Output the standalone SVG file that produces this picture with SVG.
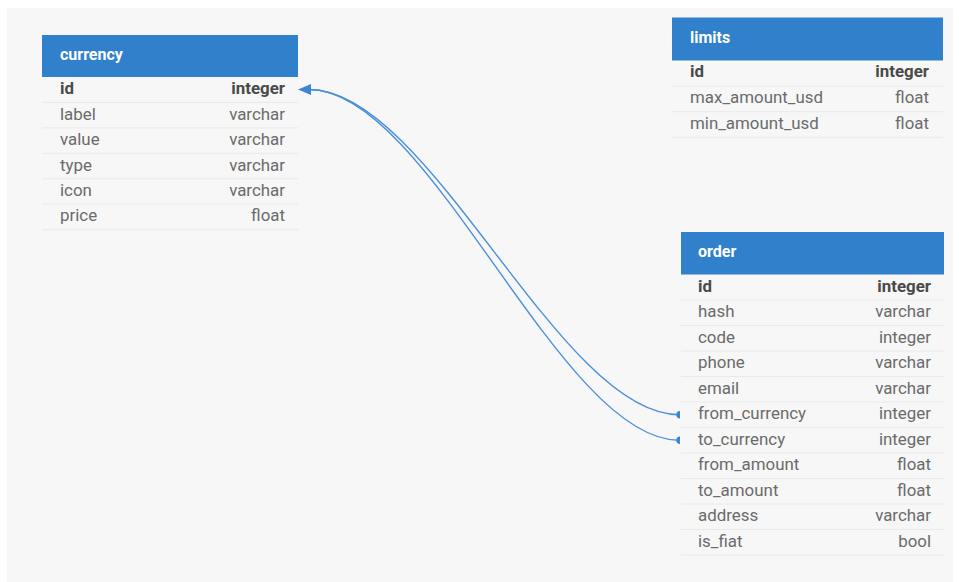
<svg xmlns="http://www.w3.org/2000/svg" width="959" height="582" viewBox="0 0 959 582">
  <defs>
    <style>
      .canvas { fill: #f7f7f7; }
      .head { fill: #3080cc; }
      .title { font-family: Roboto, "Liberation Sans", sans-serif; font-size: 16px; font-weight: bold; fill: #ffffff; }
      .f { font-family: Roboto, "Liberation Sans", sans-serif; font-size: 16.9px; fill: #6b6b6b; }
      .t { text-anchor: end; }
      .pk { font-weight: bold; fill: #4a4a4a; }
      .sep { stroke: #e9e9e9; stroke-width: 1; }
      .rel { fill: none; stroke: #4a90d9; stroke-width: 1.4; }
      .end { fill: #3f86d2; }
    </style>
  </defs>

  <rect class="canvas" x="7" y="8" width="946" height="574"/>

  <!-- relations: order.from_currency / order.to_currency -> currency.id -->
  <g id="connectors">
    <path class="rel" d="M679 414.7 C 559 414.7 430 89.5 309 89.5"/>
    <path class="rel" d="M679 440.2 C 559 440.2 430 89.5 309 89.5"/>
    <path class="end" d="M298 89.5 L311 84 L311 95 Z"/>
    <path class="end" d="M680 411 A 3.7 3.7 0 0 0 680 418.4 Z"/>
    <path class="end" d="M680 436.5 A 3.7 3.7 0 0 0 680 443.9 Z"/>
  </g>

  <!-- currency -->
  <g id="currency">
    <rect class="head" x="42" y="35" width="256" height="42"/>
    <text class="title" x="60" y="60">currency</text>
    <g class="sep">
      <line x1="42" y1="102.4" x2="298" y2="102.4"/>
      <line x1="42" y1="127.9" x2="298" y2="127.9"/>
      <line x1="42" y1="153.3" x2="298" y2="153.3"/>
      <line x1="42" y1="178.8" x2="298" y2="178.8"/>
      <line x1="42" y1="204.2" x2="298" y2="204.2"/>
      <line x1="42" y1="229.7" x2="298" y2="229.7"/>
    </g>
    <text class="f pk" x="60" y="94.2">id</text><text class="f pk t" x="285" y="94.2">integer</text>
    <text class="f" x="60" y="119.6">label</text><text class="f t" x="285" y="119.6">varchar</text>
    <text class="f" x="60" y="145.1">value</text><text class="f t" x="285" y="145.1">varchar</text>
    <text class="f" x="60" y="170.5">type</text><text class="f t" x="285" y="170.5">varchar</text>
    <text class="f" x="60" y="196">icon</text><text class="f t" x="285" y="196">varchar</text>
    <text class="f" x="60" y="221.4">price</text><text class="f t" x="285" y="221.4">float</text>
  </g>

  <!-- limits -->
  <g id="limits">
    <rect class="head" x="672" y="17.5" width="271" height="43"/>
    <text class="title" x="690" y="42.5">limits</text>
    <g class="sep">
      <line x1="672" y1="86.1" x2="943" y2="86.1"/>
      <line x1="672" y1="111.7" x2="943" y2="111.7"/>
      <line x1="672" y1="137.3" x2="943" y2="137.3"/>
    </g>
    <text class="f pk" x="690" y="77.3">id</text><text class="f pk t" x="929" y="77.3">integer</text>
    <text class="f" x="690" y="102.9">max_amount_usd</text><text class="f t" x="929" y="102.9">float</text>
    <text class="f" x="690" y="128.5">min_amount_usd</text><text class="f t" x="929" y="128.5">float</text>
  </g>

  <!-- order -->
  <g id="order">
    <rect class="head" x="681" y="232" width="263" height="42.5"/>
    <text class="title" x="698" y="257">order</text>
    <g class="sep">
      <line x1="681" y1="300" x2="944" y2="300"/>
      <line x1="681" y1="325.5" x2="944" y2="325.5"/>
      <line x1="681" y1="351" x2="944" y2="351"/>
      <line x1="681" y1="376.5" x2="944" y2="376.5"/>
      <line x1="681" y1="402" x2="944" y2="402"/>
      <line x1="681" y1="427.5" x2="944" y2="427.5"/>
      <line x1="681" y1="453" x2="944" y2="453"/>
      <line x1="681" y1="478.5" x2="944" y2="478.5"/>
      <line x1="681" y1="504" x2="944" y2="504"/>
      <line x1="681" y1="529.5" x2="944" y2="529.5"/>
      <line x1="681" y1="555" x2="944" y2="555"/>
    </g>
    <text class="f pk" x="698" y="291.6">id</text><text class="f pk t" x="931" y="291.6">integer</text>
    <text class="f" x="698" y="317.1">hash</text><text class="f t" x="931" y="317.1">varchar</text>
    <text class="f" x="698" y="342.6">code</text><text class="f t" x="931" y="342.6">integer</text>
    <text class="f" x="698" y="368.1">phone</text><text class="f t" x="931" y="368.1">varchar</text>
    <text class="f" x="698" y="393.6">email</text><text class="f t" x="931" y="393.6">varchar</text>
    <text class="f" x="698" y="419.1">from_currency</text><text class="f t" x="931" y="419.1">integer</text>
    <text class="f" x="698" y="444.6">to_currency</text><text class="f t" x="931" y="444.6">integer</text>
    <text class="f" x="698" y="470.1">from_amount</text><text class="f t" x="931" y="470.1">float</text>
    <text class="f" x="698" y="495.6">to_amount</text><text class="f t" x="931" y="495.6">float</text>
    <text class="f" x="698" y="521.1">address</text><text class="f t" x="931" y="521.1">varchar</text>
    <text class="f" x="698" y="546.6">is_fiat</text><text class="f t" x="931" y="546.6">bool</text>
  </g>
</svg>
